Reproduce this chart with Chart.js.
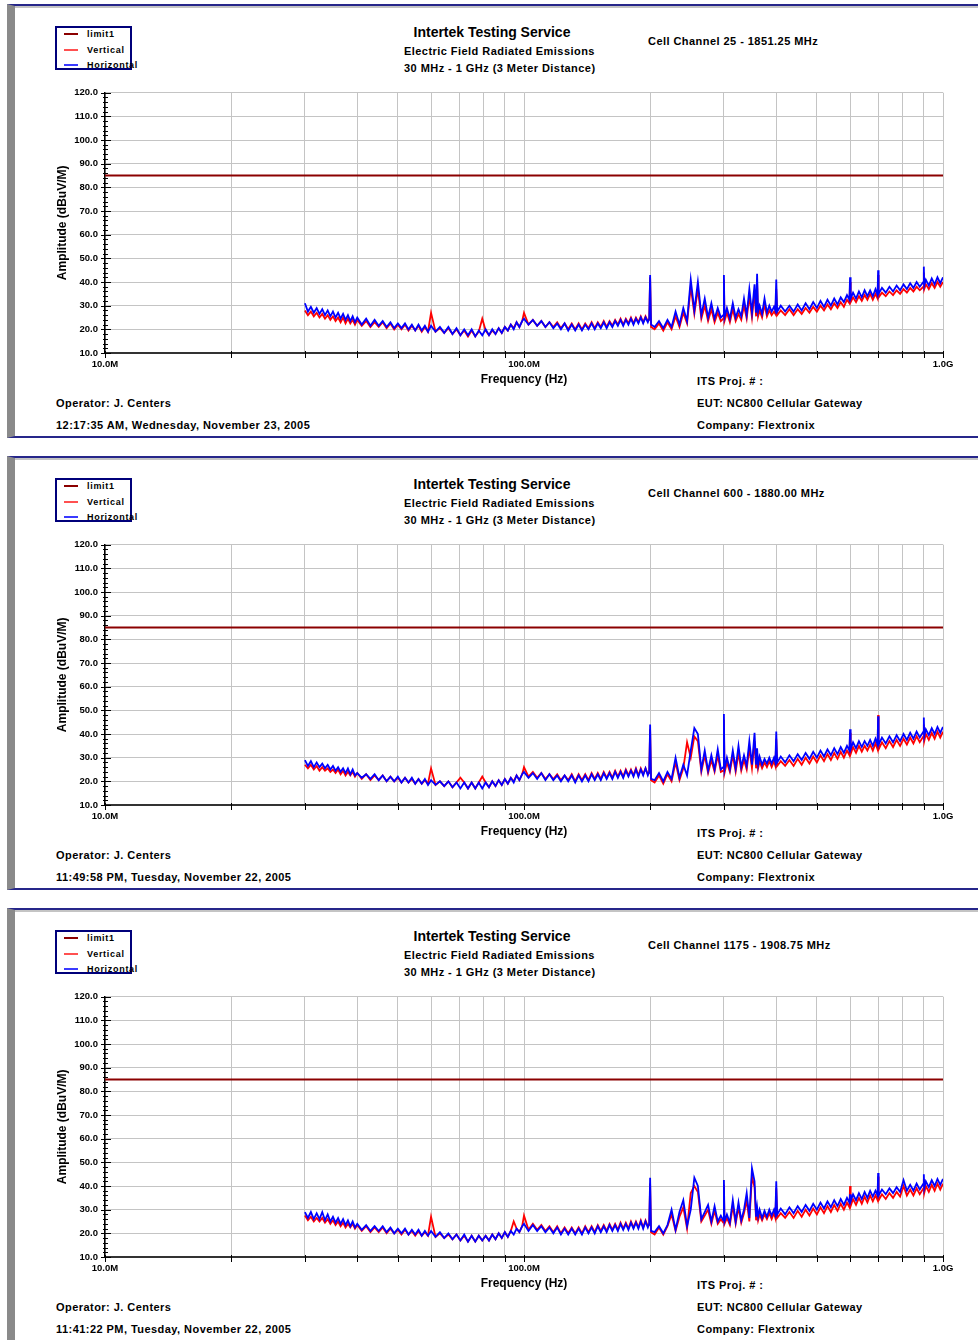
<!DOCTYPE html>
<html>
<head>
<meta charset="utf-8">
<script src="https://cdn.jsdelivr.net/npm/chart.js@4.4.1/dist/chart.umd.min.js"></script>
<style>
	body { margin: 0; background: #fff; width: 978px; height: 1340px; overflow: hidden; position: relative; font-family: 'Liberation Sans', Arial, sans-serif; }
	.panel { position: absolute; left: 0; width: 978px; height: 434px; }
	.frame { position: absolute; left: 7px; top: 0; width: 990px; height: 430px; border-top: 2px solid #26268a; border-bottom: 2px solid #26268a; border-left: 8px solid #8a8a8a; box-shadow: inset 0 2px 0 #c4c4c4; }
	.t { position: absolute; font-weight: bold; font-size: 11px; letter-spacing: .45px; line-height: 14px; white-space: nowrap; color: #000; }
	.title { left: 392px; width: 200px; text-align: center; font-size: 14px; letter-spacing: 0; line-height: 16px; }
	.legend { position: absolute; left: 55px; top: 22px; width: 73px; height: 40px; border: 2px solid #00007a; }
	.legend .item { position: absolute; left: 30px; font-weight: bold; font-size: 9px; letter-spacing: .7px; line-height: 10px; white-space: nowrap; }
	.legend .swatch { position: absolute; left: -23px; top: 4px; width: 14px; height: 1.5px; }
	canvas { position: absolute; left: 45px; top: 76px; }
</style>
</head>
<body>
<div id="page"></div>
<script>
// sweep frequencies (MHz), shared by every trace
const freqMHz = [
	30, 30.5, 31, 31.5, 32, 32.5, 33, 33.5, 34, 34.5, 35, 35.5, 36, 36.5, 37, 37.5, 38, 38.5, 39, 39.5,
	40, 41, 42, 43, 44, 45, 46, 47, 48, 49, 50, 51, 52, 53, 54, 55, 56, 57, 58, 59,
	60, 61.5, 63, 64.5, 66, 67.5, 69, 70.5, 72, 73.5, 75, 76.5, 78, 79.5, 81, 82.5, 84, 85.5, 87, 88.5,
	90, 91.5, 93, 94.5, 96, 97.5, 99,
	100, 102.5, 105, 107.5, 110, 112.5, 115, 117.5, 120, 122.5, 125, 127.5, 130, 132.5, 135, 137.5, 140, 142.5, 145, 147.5,
	150, 152.5, 155, 157.5, 160, 162.5, 165, 167.5, 170, 172.5, 175, 177.5, 180, 182.5, 185, 187.5, 190, 192.5, 195, 197.5,
	199, 200, 201, 205, 210, 215, 220, 225, 230, 235, 240, 245,
	250, 255, 260, 265, 270, 275, 280, 285, 290, 295,
	299, 300, 301, 305, 310, 315, 320, 325, 330, 335, 340, 345, 350, 355,
	358, 360, 362, 365, 370, 375, 380, 385, 390, 395,
	398, 400, 402,
	410, 420, 430, 440, 450, 460, 470, 480, 490, 500,
	510, 520, 530, 540, 550, 560, 570, 580, 590,
	598, 600, 602,
	610, 620, 630, 640, 650, 660, 670, 680, 690,
	698, 700, 702,
	715, 730, 745, 760, 775, 790, 805, 820, 835, 850,
	865, 880, 898, 900, 902,
	910, 925, 940, 955, 970, 985, 1000
];

const limitFreq = [10, 1000];
const limitLevel = [85, 85];

// Cell Channel 25
const p1Vertical = [
	28, 26, 27.5, 25.5, 27, 25, 26.5, 24.5, 26, 24, 25.5, 23.5, 25, 23, 25, 22.5, 24.5, 22.5, 24, 22,
	24, 21.5, 23.5, 21, 23, 21, 23, 20.5, 22.5, 20, 22, 20, 22, 19.5, 21.5, 19.5, 21.5, 19, 21, 19,
	27, 19, 20.5, 18.5, 20.5, 18, 20, 17.5, 19.5, 17, 19.5, 17, 19, 24.5, 19.5, 17.5, 19.5, 18, 20.5, 18.5,
	21, 19.5, 22, 20.5, 23, 21, 23.5,
	27, 22, 24, 21.5, 23.5, 21, 23, 21, 23, 20.5, 22.5, 20, 22.5, 20, 22.5, 20, 22.5, 20.5, 23, 20.5,
	23, 21, 23.5, 21, 23.5, 21.5, 24, 22, 24.5, 22, 24.5, 22.5, 25, 22.5, 25, 23, 25.5, 23, 25.5, 23.5,
	24, 42, 21, 20, 22.5, 19.5, 23, 20, 25.5, 21, 27, 22.5,
	38, 26.5, 37, 24.5, 30, 23.5, 28.5, 23, 27, 23.5,
	24.5, 41, 23.5, 27, 23, 28.5, 23.5, 26.5, 24, 30, 24.5, 34, 25, 36,
	25.5, 40, 25.5, 28, 25, 30.5, 25.5, 28, 26, 27.5,
	26.5, 37, 26,
	28, 26, 28.5, 26, 28.5, 26.5, 29, 27, 29.5, 27.5,
	30, 28, 30.5, 28.5, 31, 29, 31.5, 29.5, 32.5,
	31, 40, 31.5,
	33.5, 31.5, 34, 32, 34.5, 32.5, 35, 32.5, 35,
	33, 43, 33.5,
	35.5, 34, 36, 34.5, 36.5, 35, 37, 35.5, 37.5, 36,
	38, 36.5, 38, 44, 37,
	39, 37, 39.5, 37.5, 40, 38, 40
];
const p1Horizontal = [
	31, 27.5, 29.5, 27, 29, 26.5, 28.5, 26, 28, 25.5, 27.5, 25, 27, 24.5, 26.5, 24, 26, 23.5, 25.5, 23,
	25, 22, 24.5, 21.5, 24, 21.5, 23.5, 21, 23, 20.5, 22.5, 20.5, 22.5, 20, 22, 19.5, 22, 19.5, 21.5, 19,
	21.5, 19, 21, 18.5, 21, 18, 20.5, 17.5, 20, 17.5, 20, 17, 19.5, 17.5, 20, 17.5, 20, 18, 20.5, 18.5,
	21, 19.5, 22, 20, 23, 21, 23.5,
	24.5, 22, 24, 21.5, 23.5, 21, 23, 20.5, 22.5, 20, 22.5, 19.5, 22, 19.5, 22, 19.5, 22, 20, 22.5, 20,
	22.5, 20.5, 23, 20.5, 23, 21, 23.5, 21.5, 24, 21.5, 24, 22, 24.5, 22, 24.5, 22.5, 25, 22.5, 25, 23,
	24.5, 43, 22, 21, 23.5, 20.5, 24, 21, 27.5, 22, 29, 23.5,
	41, 28, 40, 26, 33, 25, 31, 24.5, 29, 25,
	26, 43, 25, 29, 24.5, 31, 25, 28.5, 25.5, 33, 26, 37, 27, 39,
	27, 43.5, 27.5, 30, 26.5, 33, 27, 30, 27.5, 29.5,
	28, 41, 27.5,
	30, 27.5, 30, 27.5, 30.5, 28, 31, 28.5, 31.5, 29,
	32, 29.5, 32.5, 30, 33, 30.5, 33.5, 31.5, 34.5,
	32.5, 42, 33,
	35.5, 33, 36, 33.5, 36.5, 34, 36.5, 34, 37,
	34.5, 45, 35,
	37.5, 35.5, 38, 36, 38.5, 36.5, 39, 37, 39.5, 37.5,
	40, 38, 40, 46.5, 38.5,
	41, 38.5, 41.5, 39, 42, 39.5, 42
];

// Cell Channel 600
const p2Vertical = [
	27, 25.5, 27, 25, 26.5, 24.5, 26, 24.5, 25.5, 24, 25, 23.5, 25, 23, 24.5, 22.5, 24, 22.5, 24, 22,
	23.5, 21, 23, 20.5, 22.5, 20.5, 22.5, 20, 22, 20, 21.5, 19.5, 21.5, 19.5, 21, 19, 21, 19, 20.5, 19,
	25.5, 18.5, 20, 18, 20, 17.5, 19.5, 21.5, 19.5, 17, 19.5, 17, 19.5, 22, 19.5, 17.5, 20, 18, 20.5, 18.5,
	21, 19, 21.5, 20, 22.5, 20.5, 23,
	26, 22, 24, 21.5, 23.5, 21, 23, 21, 23, 20.5, 22.5, 20.5, 23, 20, 23, 20.5, 23, 20.5, 23.5, 21,
	23.5, 21, 24, 21.5, 24, 21.5, 24.5, 22, 24.5, 22, 25, 22.5, 25, 22.5, 25.5, 22.5, 25.5, 23, 25.5, 23,
	23.5, 42, 20.5, 19.5, 22.5, 19, 23, 20, 28, 20.5, 25.5, 36.5,
	30, 39, 37, 24, 31, 23.5, 29, 24, 31, 24,
	24.5, 46, 23.5, 28, 24, 31, 24, 32, 24.5, 29, 25, 34, 25.5, 37,
	25.5, 32, 25.5, 28.5, 25.5, 28, 26, 28.5, 26, 28.5,
	26.5, 38, 26.5,
	28.5, 26.5, 29, 26.5, 29.5, 27, 30, 27.5, 30.5, 28,
	31, 28.5, 31.5, 29, 32, 29.5, 32.5, 30, 33,
	31, 40.5, 31.5,
	34.5, 32, 35, 32.5, 35, 33, 35.5, 33, 36,
	33.5, 48, 33.5,
	36.5, 34, 37, 34.5, 37.5, 35, 38, 35.5, 38.5, 36,
	39, 36.5, 39, 44, 37,
	40, 37.5, 40.5, 38, 41, 38.5, 41
];
const p2Horizontal = [
	29, 26.5, 28.5, 26, 28, 26, 27.5, 25.5, 27, 25, 26.5, 24.5, 26, 24, 25.5, 23.5, 25.5, 23, 25, 22.5,
	23.5, 21.5, 23, 21, 23, 20.5, 22.5, 20, 22, 20, 22, 19.5, 21.5, 19.5, 21.5, 19, 21, 19, 21, 18.5,
	20.5, 18.5, 20, 18, 20, 17.5, 19.5, 17, 19.5, 17, 19.5, 17, 19.5, 17, 19.5, 17.5, 20, 18, 20.5, 18.5,
	21, 19, 21.5, 19.5, 22.5, 20.5, 23,
	24, 21.5, 23.5, 21, 23.5, 20.5, 23, 20.5, 22.5, 20, 22.5, 20, 22.5, 19.5, 22.5, 20, 22.5, 20, 23, 20.5,
	23, 20.5, 23.5, 21, 23.5, 21, 24, 21.5, 24, 21.5, 24.5, 22, 24.5, 22, 25, 22, 25, 22.5, 25.5, 22.5,
	24, 44, 21, 20.5, 23.5, 20, 24, 21, 30, 21.5, 27, 22.5,
	33, 42.5, 40, 25, 33, 24.5, 31, 25, 33.5, 25,
	26, 48.5, 25, 30, 25, 33, 25.5, 35, 26, 31, 26.5, 37, 27, 40.5,
	27, 34, 27, 30.5, 27, 29.5, 27.5, 30, 27.5, 30,
	28, 41, 28,
	30.5, 28, 31, 28.5, 31.5, 29, 32, 29.5, 32.5, 30,
	33, 30.5, 33.5, 31, 34, 31.5, 34.5, 32, 35,
	33, 42, 33.5,
	36.5, 34, 37, 34.5, 37, 35, 37.5, 35, 38,
	35.5, 47.5, 35.5,
	38.5, 36, 39, 36.5, 39.5, 37, 40, 37.5, 40.5, 38,
	41, 38.5, 41, 47, 39,
	42, 39.5, 42.5, 40, 43, 40.5, 43
];

// Cell Channel 1175
const p3Vertical = [
	27.5, 25.5, 27, 25, 26.5, 25, 26.5, 24.5, 26, 24, 25.5, 23.5, 25, 23, 24.5, 22.5, 24, 22.5, 24, 22,
	23.5, 21, 23, 20.5, 22.5, 20.5, 22.5, 20, 22, 20, 21.5, 19.5, 21.5, 19.5, 21, 19, 21, 19, 20.5, 19,
	27, 18.5, 20, 18, 19.5, 17.5, 19.5, 17, 19, 16.5, 19, 16.5, 19, 17, 19, 17, 19.5, 17.5, 20, 18,
	20.5, 18.5, 21, 25, 22, 20.5, 23,
	27.5, 21.5, 24, 21.5, 23.5, 21, 23, 20.5, 23, 20, 22.5, 20, 22.5, 20, 22.5, 20, 23, 20.5, 23, 20.5,
	23.5, 21, 23.5, 21, 24, 21.5, 24, 21.5, 24.5, 22, 24.5, 22, 25, 22.5, 25, 22.5, 25.5, 22.5, 25.5, 23,
	23.5, 41, 20.5, 19.5, 22.5, 19.5, 23, 28, 21, 27, 31, 22,
	37, 40, 37.5, 25, 27.5, 30, 24, 29.5, 24, 26,
	24.5, 40.5, 24, 26.5, 23.5, 31.5, 24, 31, 24.5, 28.5, 34, 25, 44, 39.5,
	25.5, 29, 25.5, 28, 25.5, 28, 26, 28.5, 26, 28.5,
	26.5, 39, 26.5,
	28.5, 26.5, 29, 26.5, 29.5, 27, 30, 27.5, 30.5, 28,
	31, 28.5, 31.5, 29, 32, 29.5, 32.5, 30, 33,
	31, 40, 31.5,
	34.5, 32, 35, 32.5, 35.5, 33, 36, 33.5, 36,
	34, 44, 34,
	36.5, 34.5, 37, 35, 37.5, 35.5, 40, 36, 38.5, 36,
	39, 36.5, 39, 43, 37,
	40, 37.5, 40.5, 38, 41, 38.5, 41
];
const p3Horizontal = [
	29, 26.5, 29, 26, 28.5, 26, 29, 25.5, 28, 25, 27, 24.5, 26.5, 24, 26, 23.5, 25.5, 23, 25, 22.5,
	24, 21.5, 23.5, 21, 23, 21, 23, 20.5, 22.5, 20, 22, 20, 22, 19.5, 21.5, 19.5, 21.5, 19, 21, 19,
	21, 18.5, 20.5, 18, 20, 17.5, 19.5, 17, 19.5, 16.5, 19, 16.5, 19, 17, 19, 17, 19.5, 17.5, 20, 18,
	20.5, 18.5, 21, 19.5, 22, 20.5, 23,
	24, 21, 23.5, 21, 23, 20.5, 22.5, 20, 22.5, 19.5, 22, 19.5, 22, 19.5, 22, 19.5, 22.5, 20, 22.5, 20,
	23, 20.5, 23, 20.5, 23.5, 21, 23.5, 21, 24, 21.5, 24, 21.5, 24.5, 22, 24.5, 22, 25, 22, 25, 22.5,
	24, 43.5, 21, 20.5, 23, 20, 23.5, 30, 21.5, 29, 34, 23,
	30, 43.5, 40, 26, 29, 32, 25, 31.5, 25, 27.5,
	25.5, 42.5, 25, 28, 24.5, 34, 25, 33, 25.5, 30, 37, 26.5, 47.5, 42,
	27, 31, 27, 30, 26.5, 29.5, 27, 30, 27.5, 30,
	28, 42, 28,
	30.5, 28, 31, 28.5, 31.5, 29, 32, 29.5, 32.5, 30,
	33, 30.5, 33.5, 31, 34, 31.5, 34.5, 32, 35,
	33, 36.5, 33.5,
	36.5, 34, 37, 34.5, 37.5, 35, 38, 35.5, 38,
	36, 45.5, 36,
	38.5, 36.5, 39, 37, 39.5, 37.5, 42.5, 38, 40.5, 38,
	41, 38.5, 41, 45, 39,
	42, 39.5, 42.5, 40, 43, 40.5, 43
];

const xGridFreqs = [10, 20, 30, 40, 50, 60, 70, 80, 90, 100, 200, 300, 400, 500, 600, 700, 800, 900, 1000];
const xLabelFreqs = [10, 100, 1000];
const xLabelText = ['10.0M', '100.0M', '1.0G'];
const yTickValues = [10, 20, 30, 40, 50, 60, 70, 80, 90, 100, 110, 120];

const channelTitles = [
	'Cell Channel 25 - 1851.25 MHz',
	'Cell Channel 600 - 1880.00 MHz',
	'Cell Channel 1175 - 1908.75 MHz'
];
const timestamps = [
	'12:17:35 AM, Wednesday, November 23, 2005',
	'11:49:58 PM, Tuesday, November 22, 2005',
	'11:41:22 PM, Tuesday, November 22, 2005'
];
const verticalSeries = [p1Vertical, p2Vertical, p3Vertical];
const horizontalSeries = [p1Horizontal, p2Horizontal, p3Horizontal];
const panelTops = [4, 456, 908];

Chart.defaults.font.family = "'Liberation Sans', Arial, sans-serif";
Chart.defaults.color = '#000';

// tick marks crossing the axes, plus the 2 dB minor ticks
const axisTicks = {
	id: 'axisTicks',
	afterDraw(chart) {
		const { ctx, chartArea, scales: { x, y } } = chart;
		ctx.save();
		ctx.strokeStyle = '#000';
		ctx.lineWidth = 1;
		ctx.beginPath();
		for (let v = y.min; v <= y.max; v += 2) {
			const py = Math.round(y.getPixelForValue(v)) + 0.5;
			const major = v % 10 === 0;
			ctx.moveTo(chartArea.left - (major ? 4 : 2), py);
			ctx.lineTo(chartArea.left + (major ? 6 : 3), py);
		}
		x.ticks.forEach((t) => {
			const px = Math.round(x.getPixelForValue(t.value)) + 0.5;
			ctx.moveTo(px, chartArea.bottom - 2);
			ctx.lineTo(px, chartArea.bottom + 5);
		});
		ctx.stroke();
		ctx.restore();
	}
};

const page = document.getElementById('page');

panelTops.forEach((top, i) => {
	const panel = document.createElement('div');
	panel.className = 'panel';
	panel.style.top = top + 'px';
	panel.innerHTML = `
		<div class="frame"></div>
		<div class="legend">
			<div class="item" style="top:1px"><span class="swatch" style="background:#8b0000;height:2px"></span>limit1</div>
			<div class="item" style="top:17px"><span class="swatch" style="background:#ff5050"></span>Vertical</div>
			<div class="item" style="top:32px"><span class="swatch" style="background:#3a3aff"></span>Horizontal</div>
		</div>
		<div class="t title" style="top:20px">Intertek Testing Service</div>
		<div class="t" style="left:404px;top:40px">Electric Field Radiated Emissions</div>
		<div class="t" style="left:404px;top:57px">30 MHz - 1 GHz (3 Meter Distance)</div>
		<div class="t" style="left:648px;top:30px">${channelTitles[i]}</div>
		<div class="t" style="left:697px;top:370px">ITS Proj. # :</div>
		<div class="t" style="left:56px;top:392px">Operator: J. Centers</div>
		<div class="t" style="left:697px;top:392px">EUT: NC800 Cellular Gateway</div>
		<div class="t" style="left:56px;top:414px">${timestamps[i]}</div>
		<div class="t" style="left:697px;top:414px">Company: Flextronix</div>
		<canvas id="chart${i}" width="915" height="308"></canvas>
	`;
	page.appendChild(panel);

	const ctx = document.getElementById('chart' + i).getContext('2d');

	new Chart(ctx, {
		type    : 'line',
		data    : {
			datasets : [
				{
					label       : 'limit1',
					data        : limitFreq.map((f, k) => ({ x: f, y: limitLevel[k] })),
					borderColor : '#8b0000',
					borderWidth : 2,
					pointRadius : 0,
					order       : 3
				},
				{
					label       : 'Vertical',
					data        : freqMHz.map((f, k) => ({ x: f, y: verticalSeries[i][k] })),
					borderColor : '#ff0000',
					borderWidth : 1.8,
					pointRadius : 0,
					order       : 2
				},
				{
					label       : 'Horizontal',
					data        : freqMHz.map((f, k) => ({ x: f, y: horizontalSeries[i][k] })),
					borderColor : '#0000ff',
					borderWidth : 1.8,
					pointRadius : 0,
					order       : 1
				}
			]
		},
		options : {
			responsive : false,
			animation  : false,
			layout     : { padding: { top: 8, right: 17, left: 0, bottom: 0 } },
			plugins    : { legend: { display: false }, tooltip: { enabled: false } },
			scales     : {
				x : {
					type            : 'logarithmic',
					min             : 10,
					max             : 1000,
					afterFit        : (s) => { s.height = 35; },
					afterBuildTicks : (s) => { s.ticks = xGridFreqs.map((v) => ({ value: v })); },
					grid            : { color: '#c4c4c4', drawTicks: false },
					border          : { color: '#333', width: 2 },
					ticks           : {
						autoSkip    : false,
						maxRotation : 0,
						padding     : 6,
						font        : { size: 9.5, weight: 'bold' },
						callback    : (v) => {
							const k = xLabelFreqs.indexOf(v);
							return k < 0 ? '' : xLabelText[k];
						}
					},
					title           : {
						display : true,
						text    : 'Frequency (Hz)',
						font    : { size: 12, weight: 'bold' },
						padding : { top: 0, bottom: 1 }
					}
				},
				y : {
					min             : 10,
					max             : 120,
					afterFit        : (s) => { s.width = 60; },
					afterBuildTicks : (s) => { s.ticks = yTickValues.map((v) => ({ value: v })); },
					grid            : { color: '#c4c4c4', drawTicks: false },
					border          : { color: '#000', width: 1.5 },
					ticks           : {
						padding  : 7,
						font     : { size: 9.5, weight: 'bold' },
						callback : (v) => v.toFixed(1)
					},
					title           : {
						display : true,
						text    : 'Amplitude (dBuV/M)',
						font    : { size: 12, weight: 'bold' },
						padding : { top: 10, bottom: 0 }
					}
				}
			}
		},
		plugins : [axisTicks]
	});
});
</script>
</body>
</html>
